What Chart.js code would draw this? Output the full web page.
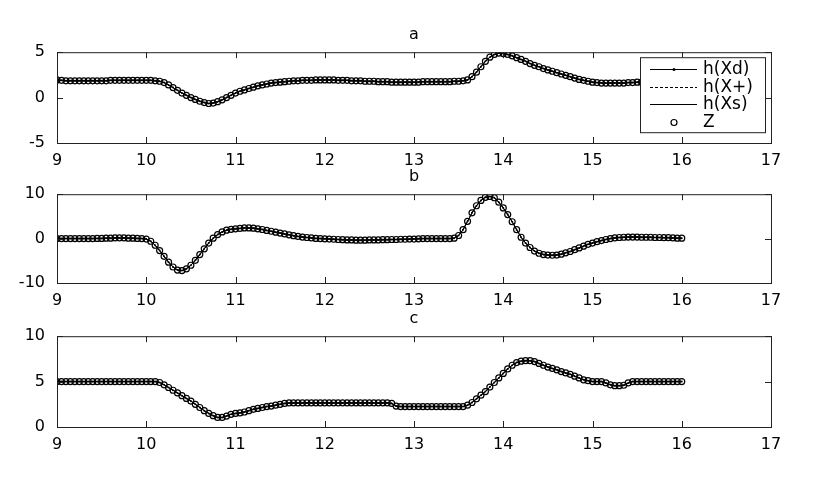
<!DOCTYPE html>
<html>
<head>
<meta charset="utf-8">
<script src="https://cdn.jsdelivr.net/npm/chart.js@4.4.0/dist/chart.umd.min.js"></script>
<style>
  html, body { margin: 0; padding: 0; background: #fff; }
  .wrap { position: relative; width: 830px; height: 485px; }
  canvas { position: absolute; left: 0; }
</style>
</head>
<body>
<div class="wrap">
  <canvas id="chartA" width="830" height="175" style="top:0px"></canvas>
  <canvas id="chartB" width="830" height="175" style="top:142px"></canvas>
  <canvas id="chartC" width="830" height="175" style="top:284px"></canvas>
</div>
<script>
// sample times 9.00 .. 16.00, step 0.05
const sampleTimes = Array.from({ length: 141 }, (_, i) => +(9 + i * 0.05).toFixed(2));
const xTicks = [9, 10, 11, 12, 13, 14, 15, 16, 17];
const seriesLabels = ['h(Xd)', 'h(X+)', 'h(Xs)', 'Z'];
const panelTitles = ['a', 'b', 'c'];

// panel a
const valuesA = [
  1.95, 1.9, 1.85, 1.85, 1.85, 1.85, 1.85, 1.85, 1.85, 1.85, 1.85, 1.85, 1.9, 1.9, 1.9, 1.9, 1.9, 1.9, 1.9, 1.9,
  1.9, 1.9, 1.85, 1.8, 1.65, 1.4, 1.1, 0.8, 0.5, 0.25, 0.0, -0.2, -0.4, -0.55, -0.65, -0.6, -0.45, -0.25, 0.0, 0.25,
  0.5, 0.7, 0.85, 1.0, 1.15, 1.3, 1.4, 1.5, 1.6, 1.65, 1.7, 1.75, 1.8, 1.85, 1.85, 1.9, 1.9, 1.9, 1.95, 1.95,
  1.95, 1.95, 1.95, 1.9, 1.9, 1.9, 1.85, 1.85, 1.85, 1.8, 1.8, 1.8, 1.75, 1.75, 1.75, 1.7, 1.7, 1.7, 1.7, 1.7,
  1.7, 1.7, 1.75, 1.75, 1.75, 1.75, 1.75, 1.75, 1.75, 1.8, 1.8, 1.85, 1.95, 2.3, 2.8, 3.4, 4.0, 4.45, 4.75, 4.9,
  4.85, 4.75, 4.6, 4.4, 4.2, 4.0, 3.75, 3.55, 3.4, 3.2, 3.05, 2.9, 2.75, 2.6, 2.45, 2.3, 2.15, 2.0, 1.9, 1.8,
  1.7, 1.65, 1.6, 1.6, 1.6, 1.6, 1.6, 1.6, 1.65, 1.65, 1.7, 1.7, 1.7, 1.75, 1.75, 1.8, 1.8, 1.8, 1.85, 1.85,
  1.85
];

// panel b
const valuesB = [
  0, 0, 0, 0, 0, 0, 0, 0, 0, 0.05, 0.05, 0.1, 0.1, 0.15, 0.15, 0.15, 0.1, 0.1, 0.05, 0,
  -0.1, -0.6, -1.5, -2.7, -4.0, -5.3, -6.4, -7.1, -7.2, -6.8, -6.0, -4.9, -3.6, -2.3, -1.0, 0.1, 0.9, 1.5, 1.9, 2.1,
  2.2, 2.3, 2.4, 2.4, 2.35, 2.2, 2.05, 1.85, 1.65, 1.45, 1.25, 1.05, 0.85, 0.65, 0.5, 0.35, 0.25, 0.15, 0.05, 0.0,
  -0.05, -0.1, -0.15, -0.2, -0.25, -0.3, -0.3, -0.35, -0.35, -0.35, -0.3, -0.3, -0.3, -0.25, -0.25, -0.2, -0.2, -0.15, -0.15, -0.1,
  -0.1, -0.05, 0, 0, 0, 0, 0, 0, 0, 0.1, 0.7, 2.0, 3.9, 5.8, 7.4, 8.6, 9.3, 9.5, 9.2, 8.2,
  6.9, 5.4, 3.8, 2.0, 0.3, -1.0, -2.0, -2.8, -3.3, -3.6, -3.7, -3.75, -3.7, -3.5, -3.2, -2.9, -2.5, -2.1, -1.7, -1.3,
  -1.0, -0.7, -0.45, -0.2, 0.0, 0.15, 0.25, 0.3, 0.35, 0.35, 0.35, 0.3, 0.3, 0.3, 0.25, 0.25, 0.2, 0.2, 0.15, 0.1,
  0.1
];

// panel c
const valuesC = [
  5, 5, 5, 5, 5, 5, 5, 5, 5, 5, 5, 5, 5, 5, 5, 5, 5, 5, 5, 5,
  5, 5, 5.0, 4.9, 4.65, 4.35, 4.05, 3.75, 3.45, 3.15, 2.85, 2.5, 2.15, 1.8, 1.5, 1.25, 1.05, 1.05, 1.2, 1.4,
  1.5, 1.55, 1.65, 1.8, 1.95, 2.05, 2.15, 2.25, 2.3, 2.4, 2.5, 2.6, 2.65, 2.65, 2.65, 2.65, 2.65, 2.65, 2.65, 2.65,
  2.65, 2.65, 2.65, 2.65, 2.65, 2.65, 2.65, 2.65, 2.65, 2.65, 2.65, 2.65, 2.65, 2.65, 2.65, 2.6, 2.3, 2.25, 2.25, 2.25,
  2.25, 2.25, 2.25, 2.25, 2.25, 2.25, 2.25, 2.25, 2.25, 2.25, 2.25, 2.25, 2.4, 2.7, 3.1, 3.5, 3.9, 4.4, 4.9, 5.4,
  5.9, 6.4, 6.8, 7.1, 7.25, 7.3, 7.3, 7.2, 7.0, 6.8, 6.6, 6.45, 6.3, 6.1, 5.95, 5.8, 5.6, 5.4, 5.2, 5.1,
  5.0, 5.0, 5.0, 4.85, 4.65, 4.55, 4.55, 4.6, 4.85, 5.0, 5, 5, 5, 5, 5, 5, 5, 5, 5, 5,
  5
];

const yRanges = [
  { min: -5, max: 5, step: 5 },
  { min: -10, max: 10, step: 10 },
  { min: 0, max: 10, step: 5 }
];

Chart.defaults.font.family = 'DejaVu Sans';
Chart.defaults.font.size = 16;
Chart.defaults.color = '#000';

// MATLAB style box with inward ticks on all four sides
const frameTicks = {
  id: 'frameTicks',
  afterDatasetsDraw(chart) {
    const { ctx, chartArea: a, scales } = chart;
    const len = 6;
    ctx.save();
    ctx.strokeStyle = '#222';
    ctx.lineWidth = 1;
    ctx.strokeRect(a.left + 0.5, a.top + 0.5, a.width, a.height);
    ctx.beginPath();
    scales.x.ticks.forEach(t => {
      const px = Math.round(scales.x.getPixelForValue(t.value)) + 0.5;
      ctx.moveTo(px, a.bottom); ctx.lineTo(px, a.bottom - len);
      ctx.moveTo(px, a.top); ctx.lineTo(px, a.top + len);
    });
    scales.y.ticks.forEach(t => {
      const py = Math.round(scales.y.getPixelForValue(t.value)) + 0.5;
      ctx.moveTo(a.left, py); ctx.lineTo(a.left + len, py);
      ctx.moveTo(a.right, py); ctx.lineTo(a.right - len, py);
    });
    ctx.stroke();
    ctx.restore();
  }
};

// boxed legend in the upper right of the first panel
const boxLegend = {
  id: 'boxLegend',
  afterDraw(chart) {
    if (!chart.options.plugins.boxLegend || !chart.options.plugins.boxLegend.show) return;
    const { ctx, chartArea: a } = chart;
    const w = 125, h = 75;
    const x0 = a.right - 6 - w, y0 = a.top + 5;
    ctx.save();
    ctx.fillStyle = '#fff';
    ctx.fillRect(x0, y0, w, h);
    ctx.strokeStyle = '#222';
    ctx.lineWidth = 1;
    ctx.strokeRect(x0 + 0.5, y0 + 0.5, w, h);
    ctx.font = '17px "DejaVu Sans"';
    ctx.textBaseline = 'middle';
    ctx.fillStyle = '#000';
    chart.data.datasets.forEach((ds, i) => {
      const y = Math.round(y0 + 12 + i * 17.5) + 0.5;
      ctx.strokeStyle = '#000';
      if (ds.showLine !== false) {
        ctx.setLineDash(ds.borderDash || []);
        ctx.beginPath();
        ctx.moveTo(x0 + 10, y); ctx.lineTo(x0 + 57, y);
        ctx.stroke();
        ctx.setLineDash([]);
        if (ds.pointRadius > 0) {
          ctx.beginPath();
          ctx.arc(x0 + 34, y, 1.5, 0, Math.PI * 2);
          ctx.fill();
        }
      } else {
        ctx.lineWidth = 1.2;
        ctx.beginPath();
        ctx.arc(x0 + 34, y, 3, 0, Math.PI * 2);
        ctx.stroke();
        ctx.lineWidth = 1;
      }
      ctx.fillText(ds.label, x0 + 63, y);
    });
    ctx.restore();
  }
};

function toPoints(values) {
  return values.map((v, i) => ({ x: sampleTimes[i], y: v }));
}

function makePanel(id, title, values, range, bottomPad, withLegend) {
  const ctx = document.getElementById(id).getContext('2d');
  return new Chart(ctx, {
    type: 'line',
    data: {
      datasets: [
        {
          label: seriesLabels[0],
          data: toPoints(values),
          borderColor: '#000',
          backgroundColor: '#000',
          borderWidth: 1,
          pointRadius: 1,
          pointBorderWidth: 0,
          order: 1
        },
        {
          label: seriesLabels[1],
          data: toPoints(values),
          borderColor: '#000',
          borderWidth: 1,
          borderDash: [3, 2],
          pointRadius: 0,
          order: 1
        },
        {
          label: seriesLabels[2],
          data: toPoints(values),
          borderColor: '#000',
          borderWidth: 1,
          pointRadius: 0,
          order: 1
        },
        {
          label: seriesLabels[3],
          data: toPoints(values),
          showLine: false,
          borderColor: '#000',
          backgroundColor: 'rgba(0,0,0,0)',
          pointStyle: 'circle',
          pointRadius: 3,
          pointBorderWidth: 1.2,
          order: 0
        }
      ]
    },
    options: {
      responsive: false,
      animation: false,
      devicePixelRatio: 1,
      layout: { padding: { left: 0, right: 59, top: 0, bottom: bottomPad } },
      plugins: {
        legend: { display: false },
        tooltip: { enabled: false },
        title: {
          display: true,
          text: title,
          fullSize: false,
          color: '#000',
          font: { size: 16, weight: 'normal' },
          padding: { top: 25, bottom: 8 }
        },
        boxLegend: { show: withLegend }
      },
      scales: {
        x: {
          type: 'linear',
          min: xTicks[0],
          max: xTicks[xTicks.length - 1],
          afterBuildTicks: (scale) => { scale.ticks = xTicks.map(v => ({ value: v })); },
          afterFit: (scale) => { scale.height = 25; },
          grid: { display: false },
          border: { display: false },
          ticks: { padding: 0, maxRotation: 0, autoSkip: false, color: '#000' }
        },
        y: {
          min: range.min,
          max: range.max,
          afterFit: (scale) => { scale.width = 57; },
          grid: { display: false },
          border: { display: false },
          ticks: { stepSize: range.step, padding: 4, color: '#000' }
        }
      }
    },
    plugins: [frameTicks, boxLegend]
  });
}

makePanel('chartA', panelTitles[0], valuesA, yRanges[0], 7, true);
makePanel('chartB', panelTitles[1], valuesB, yRanges[1], 9, false);
makePanel('chartC', panelTitles[2], valuesC, yRanges[2], 7, false);
</script>
</body>
</html>
